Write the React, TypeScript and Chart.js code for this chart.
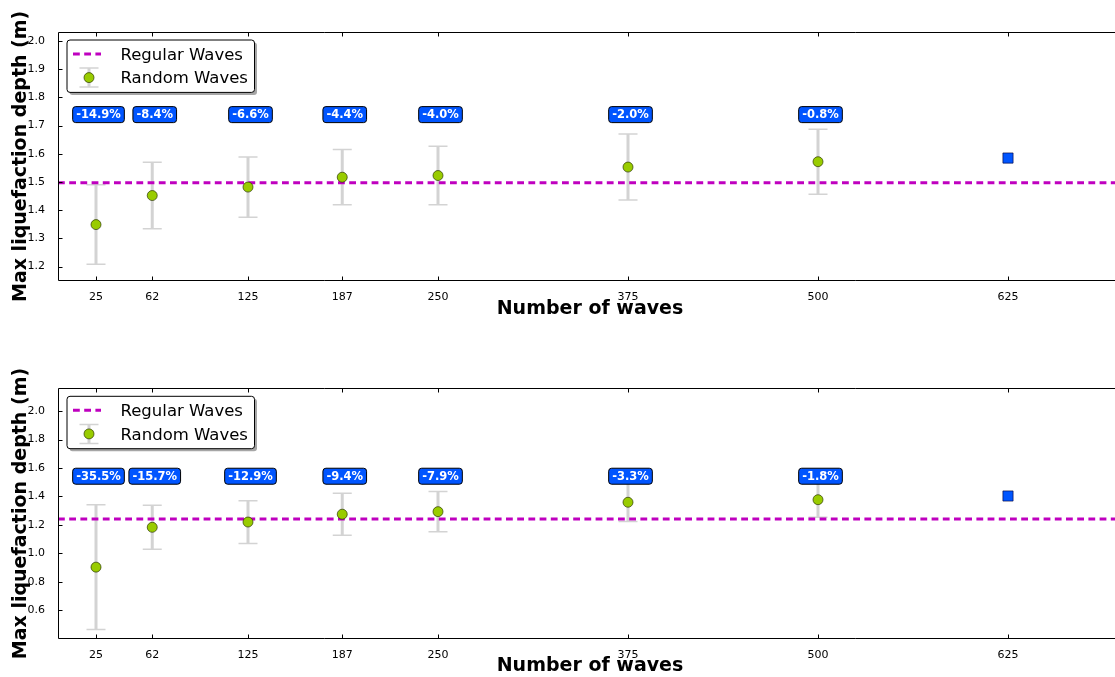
import React, { useEffect, useRef } from "react";
import { Chart, registerables } from "chart.js";

Chart.register(...registerables);

// ---------- data ----------
const waveCounts = [25, 62, 125, 187, 250, 375, 500];
const referenceWaves = [625];
const xTickValues = [25, 62, 125, 187, 250, 375, 500, 625];

const topRandomMean = [1.349, 1.452, 1.482, 1.517, 1.523, 1.553, 1.572];
const topRandomErr = [0.141, 0.118, 0.107, 0.098, 0.104, 0.117, 0.115];
const topRegular = [1.497];
const topReference = [1.585];
const topLabels = ["-14.9%", "-8.4%", "-6.6%", "-4.4%", "-4.0%", "-2.0%", "-0.8%"];
const topYTicks = [1.2, 1.3, 1.4, 1.5, 1.6, 1.7, 1.8, 1.9, 2.0];

const bottomRandomMean = [0.903, 1.183, 1.22, 1.275, 1.293, 1.359, 1.377];
const bottomRandomErr = [0.439, 0.155, 0.15, 0.147, 0.142, 0.136, 0.124];
const bottomRegular = [1.242];
const bottomReference = [1.403];
const bottomLabels = ["-35.5%", "-15.7%", "-12.9%", "-9.4%", "-7.9%", "-3.3%", "-1.8%"];
const bottomYTicks = [0.6, 0.8, 1.0, 1.2, 1.4, 1.6, 1.8, 2.0];

// ---------- style ----------
const FONT = "'DejaVu Sans', 'Liberation Sans', sans-serif";
const X_MIN = 0;
const X_MAX = 700;
const MAGENTA = "#bf00bf";
const GREEN = "#99cc00";
const BLUE = "#0055ff";
const ERR_GRAY = "#d3d3d3";
const DASH = [6.8, 4.4];

type Panel = {
  mean: number[];
  err: number[];
  regular: number[];
  reference: number[];
  labels: string[];
  yTicks: number[];
  yMin: number;
  yMax: number;
  labelLevel: number;
  top: number;
  height: number;
  padTop: number;
  xAxisHeight: number;
  titlePadBottom: number;
};

const panels: Panel[] = [
  {
    mean: topRandomMean,
    err: topRandomErr,
    regular: topRegular,
    reference: topReference,
    labels: topLabels,
    yTicks: topYTicks,
    yMin: 1.15,
    yMax: 2.032,
    labelLevel: 1.739,
    top: 0,
    height: 338,
    padTop: 32,
    xAxisHeight: 57.3,
    titlePadBottom: 17.6,
  },
  {
    mean: bottomRandomMean,
    err: bottomRandomErr,
    regular: bottomRegular,
    reference: bottomReference,
    labels: bottomLabels,
    yTicks: bottomYTicks,
    yMin: 0.4,
    yMax: 2.16,
    labelLevel: 1.542,
    top: 338,
    height: 339,
    padTop: 50.3,
    xAxisHeight: 38.3,
    titlePadBottom: 0,
  },
];

// the original figure is cropped on the right: the plot runs slightly past the window
const CANVAS_W = 1123;

function roundRect(ctx: CanvasRenderingContext2D, x: number, y: number, w: number, h: number, r: number) {
  ctx.beginPath();
  ctx.moveTo(x + r, y);
  ctx.lineTo(x + w - r, y);
  ctx.quadraticCurveTo(x + w, y, x + w, y + r);
  ctx.lineTo(x + w, y + h - r);
  ctx.quadraticCurveTo(x + w, y + h, x + w - r, y + h);
  ctx.lineTo(x + r, y + h);
  ctx.quadraticCurveTo(x, y + h, x, y + h - r);
  ctx.lineTo(x, y + r);
  ctx.quadraticCurveTo(x, y, x + r, y);
  ctx.closePath();
}

function drawErrorBar(ctx: CanvasRenderingContext2D, x: number, y1: number, y2: number) {
  ctx.strokeStyle = ERR_GRAY;
  ctx.lineWidth = 3;
  ctx.beginPath();
  ctx.moveTo(x, y1);
  ctx.lineTo(x, y2);
  ctx.stroke();
  ctx.lineWidth = 1.5;
  ctx.beginPath();
  ctx.moveTo(x - 9.5, y1);
  ctx.lineTo(x + 9.5, y1);
  ctx.moveTo(x - 9.5, y2);
  ctx.lineTo(x + 9.5, y2);
  ctx.stroke();
}

function makeChart(canvas: HTMLCanvasElement, p: Panel) {
  const decor = {
    id: "decor",
    beforeDatasetsDraw(chart: any) {
      const { ctx, chartArea } = chart;
      const xs = chart.scales.x;
      const ys = chart.scales.y;
      ctx.save();
      ctx.beginPath();
      ctx.rect(chartArea.left, chartArea.top, chartArea.right - chartArea.left, chartArea.bottom - chartArea.top);
      ctx.clip();
      waveCounts.forEach((w, i) => {
        const x = xs.getPixelForValue(w);
        const y1 = ys.getPixelForValue(p.mean[i] - p.err[i]);
        const y2 = ys.getPixelForValue(p.mean[i] + p.err[i]);
        drawErrorBar(ctx, x, y1, y2);
      });
      ctx.restore();
    },
    afterDatasetsDraw(chart: any) {
      const { ctx } = chart;
      const xs = chart.scales.x;
      const ys = chart.scales.y;
      ctx.save();
      ctx.font = `bold 11.5px ${FONT}`;
      ctx.textAlign = "center";
      ctx.textBaseline = "middle";
      p.labels.forEach((t, i) => {
        const cx = xs.getPixelForValue(waveCounts[i]) + 2.5;
        const cy = ys.getPixelForValue(p.labelLevel);
        const w = ctx.measureText(t).width + 7;
        const h = 16;
        roundRect(ctx, cx - w / 2, cy - h / 2, w, h, 3);
        ctx.fillStyle = BLUE;
        ctx.fill();
        ctx.strokeStyle = "#000";
        ctx.lineWidth = 1;
        ctx.stroke();
        ctx.fillStyle = "#fff";
        ctx.fillText(t, cx, cy + 0.5);
      });
      ctx.restore();
    },
    afterDraw(chart: any) {
      const { ctx, chartArea } = chart;
      const xs = chart.scales.x;
      const ys = chart.scales.y;
      const L = Math.floor(chartArea.left) + 0.5;
      const R = Math.floor(chartArea.right) - 0.5;
      const T = Math.floor(chartArea.top) + 0.5;
      const B = Math.floor(chartArea.bottom) + 0.5;
      ctx.save();
      ctx.strokeStyle = "#000";
      ctx.lineWidth = 1;
      ctx.beginPath();
      ctx.rect(L, T, R - L, B - T);
      ctx.stroke();
      // inward ticks
      ctx.beginPath();
      xTickValues.forEach((v) => {
        const x = Math.round(xs.getPixelForValue(v)) + 0.5;
        ctx.moveTo(x, B);
        ctx.lineTo(x, B - 4);
        ctx.moveTo(x, T);
        ctx.lineTo(x, T + 4);
      });
      p.yTicks.forEach((v) => {
        const y = Math.round(ys.getPixelForValue(v)) + 0.5;
        ctx.moveTo(L, y);
        ctx.lineTo(L + 4, y);
        ctx.moveTo(R, y);
        ctx.lineTo(R - 4, y);
      });
      ctx.stroke();

      // legend
      const ds = chart.data.datasets;
      const lx = chartArea.left + 9;
      const ly = chartArea.top + 8;
      const lw = 187.5;
      const lh = 52.4;
      ctx.fillStyle = "rgba(0,0,0,0.35)";
      roundRect(ctx, lx + 2.5, ly + 2.5, lw, lh, 3);
      ctx.fill();
      roundRect(ctx, lx, ly, lw, lh, 3);
      ctx.fillStyle = "#fff";
      ctx.fill();
      ctx.strokeStyle = "#000";
      ctx.lineWidth = 1;
      ctx.stroke();

      const y1 = ly + 14;
      const y2 = ly + 37.6;
      ctx.strokeStyle = MAGENTA;
      ctx.lineWidth = 3;
      ctx.setLineDash(DASH);
      ctx.beginPath();
      ctx.moveTo(lx + 6, y1);
      ctx.lineTo(lx + 34, y1);
      ctx.stroke();
      ctx.setLineDash([]);

      drawErrorBar(ctx, lx + 22, y2 - 9.5, y2 + 9.5);
      ctx.beginPath();
      ctx.arc(lx + 22, y2, 5, 0, Math.PI * 2);
      ctx.fillStyle = GREEN;
      ctx.fill();
      ctx.strokeStyle = "rgba(40,50,0,0.85)";
      ctx.lineWidth = 0.8;
      ctx.stroke();

      ctx.fillStyle = "#000";
      ctx.font = `16.5px ${FONT}`;
      ctx.textAlign = "left";
      ctx.textBaseline = "alphabetic";
      ctx.fillText(ds[0].label, lx + 53.5, y1 + 6);
      ctx.fillText(ds[1].label, lx + 53.5, y2 + 5.6);
      ctx.restore();
    },
  };

  return new Chart(canvas, {
    type: "scatter",
    data: {
      datasets: [
        {
          label: "Regular Waves",
          data: [
            { x: X_MIN, y: p.regular[0] },
            { x: X_MAX, y: p.regular[0] },
          ],
          showLine: true,
          borderColor: MAGENTA,
          borderWidth: 3,
          borderDash: DASH,
          pointRadius: 0,
          order: 3,
        },
        {
          label: "Random Waves",
          data: waveCounts.map((w, i) => ({ x: w, y: p.mean[i] })),
          pointRadius: 5,
          pointBackgroundColor: GREEN,
          pointBorderColor: "rgba(40,50,0,0.85)",
          pointBorderWidth: 0.8,
          order: 1,
        },
        {
          label: "Reference",
          data: referenceWaves.map((w, i) => ({ x: w, y: p.reference[i] })),
          pointStyle: "rect",
          pointRadius: 7.2,
          pointBackgroundColor: BLUE,
          pointBorderColor: "rgba(0,0,60,0.8)",
          pointBorderWidth: 0.8,
          order: 1,
        },
      ],
    },
    options: {
      responsive: false,
      animation: false,
      devicePixelRatio: 1,
      layout: { autoPadding: false, padding: { top: p.padTop, left: 0, right: 1, bottom: 0 } },
      plugins: {
        legend: { display: false },
        tooltip: { enabled: false },
      },
      scales: {
        x: {
          type: "linear",
          min: X_MIN,
          max: X_MAX,
          grid: { display: false },
          border: { display: false },
          afterBuildTicks: (s: any) => {
            s.ticks = xTickValues.map((v) => ({ value: v }));
          },
          afterFit: (s: any) => {
            s.height = p.xAxisHeight;
            s.paddingLeft = 0;
            s.paddingRight = 0;
          },
          ticks: {
            color: "#000",
            font: { family: FONT, size: 11 },
            padding: 2,
            maxRotation: 0,
            autoSkip: false,
            callback: (v: any) => String(v),
          },
          title: {
            display: true,
            text: "Number of waves",
            color: "#000",
            font: { family: FONT, size: 19, weight: "bold" },
            padding: { top: 0, bottom: p.titlePadBottom },
          },
        },
        y: {
          type: "linear",
          min: p.yMin,
          max: p.yMax,
          grid: { display: false },
          border: { display: false },
          afterBuildTicks: (s: any) => {
            s.ticks = p.yTicks.map((v) => ({ value: v }));
          },
          afterFit: (s: any) => {
            s.width = 58;
            s.paddingTop = 0;
            s.paddingBottom = 0;
          },
          ticks: {
            color: "#000",
            font: { family: FONT, size: 11 },
            padding: 5,
            callback: (v: any) => Number(v).toFixed(1),
          },
          title: {
            display: true,
            text: "Max liquefaction depth (m)",
            color: "#000",
            font: { family: FONT, size: 19, weight: "bold" },
            padding: { top: 9.6, bottom: 0 },
          },
        },
      },
    } as any,
    plugins: [decor],
  } as any);
}

function PanelChart({ p }: { p: Panel }) {
  const ref = useRef<HTMLCanvasElement | null>(null);
  useEffect(() => {
    if (!ref.current) return;
    const chart = makeChart(ref.current, p);
    return () => chart.destroy();
  }, [p]);
  return (
    <canvas
      ref={ref}
      width={CANVAS_W}
      height={p.height}
      style={{ position: "absolute", left: 0, top: p.top, width: CANVAS_W, height: p.height, display: "block" }}
    />
  );
}

export default function App() {
  return (
    <div
      style={{
        position: "fixed",
        left: 0,
        top: 0,
        width: 1115,
        height: 677,
        overflow: "hidden",
        background: "#fff",
      }}
    >
      {panels.map((p, i) => (
        <PanelChart key={i} p={p} />
      ))}
    </div>
  );
}
